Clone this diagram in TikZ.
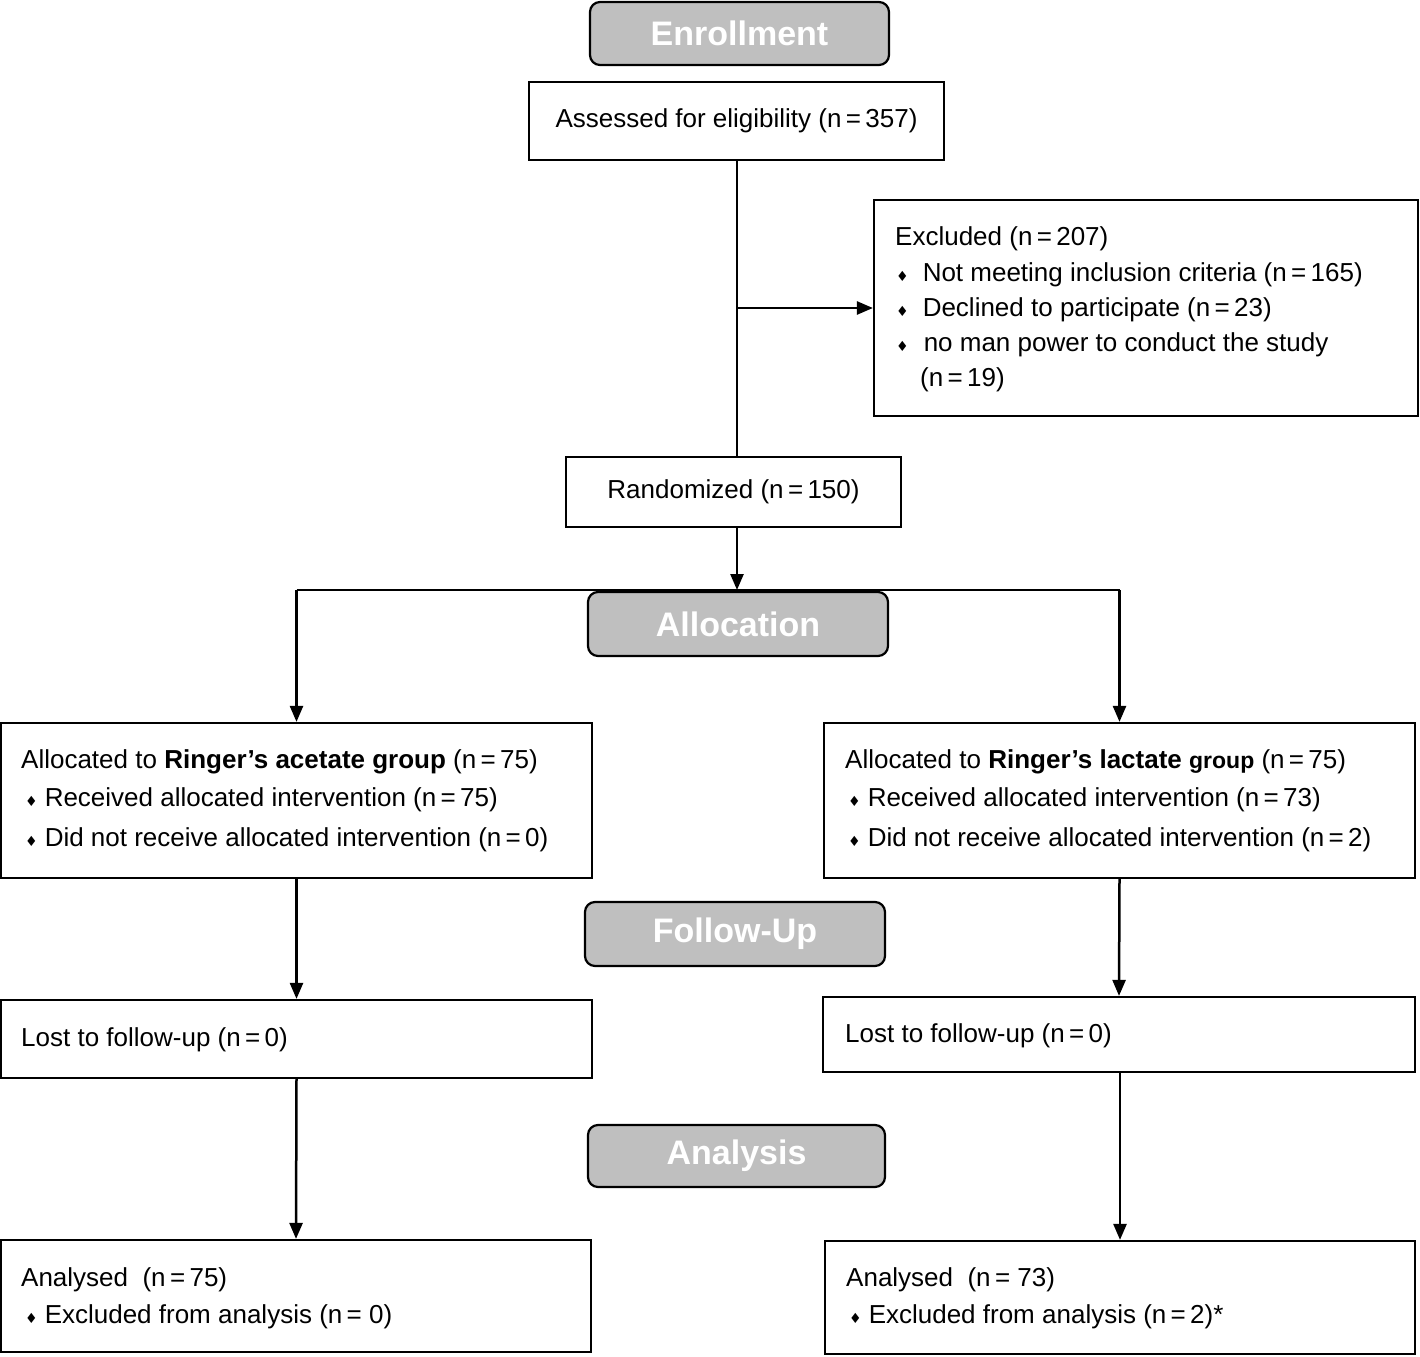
\documentclass[tikz,border=0pt]{standalone}
\usepackage{fontspec}
\setmainfont{Liberation Sans}
\newfontfamily\dejavu{DejaVu Sans}
\usetikzlibrary{arrows.meta}
\definecolor{hdrgray}{HTML}{BFBFBF}
\newcommand\bul{{\dejavu\fontsize{14}{14}\selectfont ♦}}
\newcommand\eq{\,=\,}
\tikzset{
  box/.style={draw, line width=2.2pt, inner sep=0pt},
  hdr/.style={draw, line width=2.2pt, fill=hdrgray, rounded corners=10pt, inner sep=0pt,
    text=white, font=\fontsize{34}{34}\selectfont\bfseries},
  txt/.style={anchor=base west, inner sep=0pt, font=\fontsize{26}{30}\selectfont},
  ctxt/.style={font=\fontsize{26}{30}\selectfont},
  arr/.style={line width=2.5pt, -{Triangle[length=16pt,width=13pt]}},
  ln/.style={line width=2.5pt}
}
\begin{document}
\begin{tikzpicture}[x=1pt,y=-1pt]
\useasboundingbox (0,0) rectangle (1420,1356);
% headers
\node[hdr, minimum width=299pt, minimum height=63pt] (enr) at (739.5,33.5) {Enrollment};
\node[hdr, minimum width=300pt, minimum height=64pt] (alloc) at (738,624) {Allocation};
\node[hdr, minimum width=300pt, minimum height=64pt] (fup) at (735,934) {Follow-Up};
\node[hdr, minimum width=297pt, minimum height=62pt] (anal) at (736.5,1156) {Analysis};
% boxes
\node[box, ctxt, minimum width=415pt, minimum height=78pt] (assess) at (736.5,121) {Assessed for eligibility (n\eq 357)};
\node[box, minimum width=544pt, minimum height=216pt] (excl) at (1146,308) {};
\node[box, ctxt, minimum width=335pt, minimum height=70pt] (random) at (733.5,492) {Randomized (n\eq 150)};
\node[box, minimum width=591pt, minimum height=155pt] (allocL) at (296.5,800.5) {};
\node[box, minimum width=591pt, minimum height=155pt] (allocR) at (1119.5,800.5) {};
\node[box, minimum width=591pt, minimum height=78pt] (lostL) at (296.5,1039) {};
\node[box, minimum width=592pt, minimum height=75pt] (lostR) at (1119,1034.5) {};
\node[box, minimum width=590pt, minimum height=112pt] (anaL) at (296,1296) {};
\node[box, minimum width=590pt, minimum height=113pt] (anaR) at (1120,1297.5) {};
% excluded text
\node[txt] (ex0) at (895,246) {Excluded (n\eq 207)};
\node[txt] (ex1) at (896,281) {\bul\hspace{14pt}Not meeting inclusion criteria (n\eq 165)};
\node[txt] (ex2) at (896,316) {\bul\hspace{14pt}Declined to participate (n\eq 23)};
\node[txt] (ex3) at (896,351) {\bul\hspace{15pt}no man power to conduct the study};
\node[txt] (ex4) at (920,386) {(n\eq 19)};
% allocation texts
\node[txt] (aL0) at (21,768) {Allocated to \textbf{Ringer’s acetate group} (n\eq 75)};
\node[txt] (aL1) at (25,806) {\bul\hspace{7pt}Received allocated intervention (n\eq 75)};
\node[txt] (aL2) at (25,846) {\bul\hspace{7pt}Did not receive allocated intervention (n\eq 0)};
\node[txt] (aR0) at (845,768) {Allocated to \textbf{Ringer’s lactate {\fontsize{23}{23}\selectfont group}} (n\eq 75)};
\node[txt] (aR1) at (848,806) {\bul\hspace{7pt}Received allocated intervention (n\eq 73)};
\node[txt] (aR2) at (848,846) {\bul\hspace{7pt}Did not receive allocated intervention (n\eq 2)};
% lost
\node[txt] (lL) at (21,1046) {Lost to follow-up (n\eq 0)};
\node[txt] (lR) at (845,1042) {Lost to follow-up (n\eq 0)};
% analysed
\node[txt] (nL0) at (21,1286) {Analysed\ \ (n\eq 75)};
\node[txt] (nL1) at (25,1323) {\bul\hspace{7pt}Excluded from analysis (n\,= 0)};
\node[txt] (nR0) at (846,1286) {Analysed\ \ (n\,= 73)};
\node[txt] (nR1) at (849,1323) {\bul\hspace{7pt}Excluded from analysis (n\eq 2)*};
% connectors
\coordinate (split) at (737,590);
\draw[ln] (assess.south -| split) -- (random.north -| split);
\draw[arr] (excl.west -| split) -- (excl.west);
\draw[arr] (random.south -| split) -- (split);
\draw[ln] (split -| allocL.north) -- (split -| allocR.north);
\draw[arr] (split -| allocL.north) -- (allocL.north);
\draw[arr] (split -| allocR.north) -- (allocR.north);
\draw[arr] (allocL.south) -- (lostL.north);
\draw[arr] (allocR.south) -- (lostR.north);
\draw[arr] (lostL.south) -- (anaL.north);
\draw[arr] (lostR.south -| anaR.north) -- (anaR.north);
\end{tikzpicture}
\end{document}
